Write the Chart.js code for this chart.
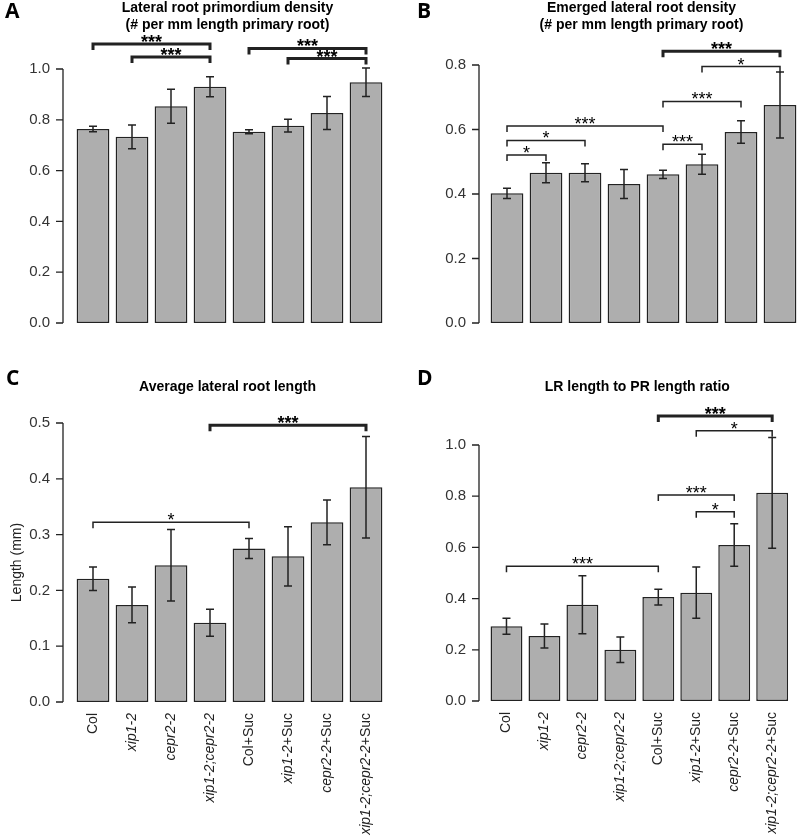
<!DOCTYPE html>
<html>
<head>
<meta charset="utf-8">
<script src="https://cdn.jsdelivr.net/npm/chart.js@4"></script>
<style>
	body { margin: 0; background: #fff; }
	#wrap { position: relative; width: 800px; height: 839px; }
	.panel { position: absolute; }
	canvas { display: block; }
</style>
</head>
<body>
<div id="wrap">
	<div class="panel" style="left:0;top:0"><canvas id="chartA" width="400" height="365"></canvas></div>
	<div class="panel" style="left:400px;top:0"><canvas id="chartB" width="400" height="365"></canvas></div>
	<div class="panel" style="left:0;top:365px"><canvas id="chartC" width="400" height="474"></canvas></div>
	<div class="panel" style="left:400px;top:365px"><canvas id="chartD" width="400" height="474"></canvas></div>
</div>
<script>
const genotypes = ["Col", "xip1-2", "cepr2-2", "xip1-2;cepr2-2", "Col+Suc", "xip1-2+Suc", "cepr2-2+Suc", "xip1-2;cepr2-2+Suc"];
// leading part of each label that is set in italics
const italicPart = ["", "xip1-2", "cepr2-2", "xip1-2;cepr2-2", "", "xip1-2", "cepr2-2", "xip1-2;cepr2-2"];

// A - lateral root primordium density
const primordiumDensity = [0.764, 0.733, 0.853, 0.930, 0.753, 0.777, 0.827, 0.948];
const primordiumErr = [0.011, 0.047, 0.067, 0.039, 0.008, 0.025, 0.065, 0.056];
// B - emerged lateral root density
const emergedDensity = [0.402, 0.466, 0.466, 0.431, 0.461, 0.492, 0.592, 0.676];
const emergedErr = [0.016, 0.031, 0.028, 0.045, 0.013, 0.031, 0.035, 0.102];
// C - average lateral root length (mm)
const lrLength = [0.221, 0.174, 0.245, 0.142, 0.275, 0.261, 0.322, 0.385];
const lrLengthErr = [0.021, 0.032, 0.064, 0.024, 0.018, 0.053, 0.040, 0.091];
// D - LR length to PR length ratio
const lrPrRatio = [0.292, 0.254, 0.376, 0.200, 0.406, 0.423, 0.609, 0.813];
const lrPrRatioErr = [0.031, 0.047, 0.113, 0.050, 0.031, 0.100, 0.083, 0.216];

// significance brackets: [first bar, last bar, height, stars, heavy line]
const sigA = [[0, 3, 1.098, "***", true], [1, 3, 1.047, "***", true], [4, 7, 1.081, "***", true], [5, 7, 1.041, "***", true]];
const sigB = [[0, 1, 0.521, "*", false], [0, 2, 0.566, "*", false], [0, 4, 0.611, "***", false], [4, 5, 0.554, "***", false],
	[4, 6, 0.687, "***", false], [5, 7, 0.795, "*", false], [4, 7, 0.843, "***", true]];
const sigC = [[0, 4, 0.322, "*", false], [3, 7, 0.496, "***", true]];
const sigD = [[0, 4, 0.526, "***", false], [5, 6, 0.739, "*", false], [4, 6, 0.805, "***", false],
	[5, 7, 1.056, "*", false], [4, 7, 1.113, "***", true]];

const FONT = "'Liberation Sans', Arial, sans-serif";

const decor = {
	id: "decor",
	afterDraw(chart, args, o) {
		const ctx = chart.ctx;
		const xs = chart.scales.x;
		const ys = chart.scales.y;
		const area = chart.chartArea;
		const vals = chart.data.datasets[0].data;
		ctx.save();
		ctx.strokeStyle = "#222";
		ctx.fillStyle = "#000";

		// panel letter
		ctx.font = "bold 21px 'Open Sans', sans-serif";
		ctx.textAlign = "left";
		ctx.textBaseline = "alphabetic";
		ctx.fillText(o.letter, o.letterX, o.letterY);

		// title
		ctx.font = "bold 14px " + FONT;
		ctx.textAlign = "center";
		ctx.textBaseline = "middle";
		const cx = (area.left + area.right) / 2 - 2;
		o.title.forEach((line, i) => ctx.fillText(line, cx, o.titleY + i * 17));

		// y axis drawn off the bars, R style
		const ax = area.left - o.axisGap;
		ctx.lineWidth = 1.3;
		ctx.beginPath();
		ctx.moveTo(ax, ys.getPixelForValue(0));
		ctx.lineTo(ax, ys.getPixelForValue(ys.max));
		ys.ticks.forEach(t => {
			const y = ys.getPixelForValue(t.value);
			ctx.moveTo(ax - 7, y);
			ctx.lineTo(ax, y);
		});
		ctx.stroke();

		// error bars
		ctx.lineWidth = 1.5;
		ctx.beginPath();
		vals.forEach((v, i) => {
			const x = xs.getPixelForValue(i);
			const hi = ys.getPixelForValue(v + o.err[i]);
			const lo = ys.getPixelForValue(v - o.err[i]);
			ctx.moveTo(x, hi); ctx.lineTo(x, lo);
			ctx.moveTo(x - 4, hi); ctx.lineTo(x + 4, hi);
			ctx.moveTo(x - 4, lo); ctx.lineTo(x + 4, lo);
		});
		ctx.stroke();

		// significance brackets
		o.sig.forEach(s => {
			const x1 = xs.getPixelForValue(s[0]);
			const x2 = xs.getPixelForValue(s[1]);
			const y = ys.getPixelForValue(s[2]);
			ctx.lineWidth = s[4] ? 3 : 1.5;
			ctx.beginPath();
			ctx.moveTo(x1, y + 6);
			ctx.lineTo(x1, y);
			ctx.lineTo(x2, y);
			ctx.lineTo(x2, y + 6);
			ctx.stroke();
			ctx.font = (s[4] ? "bold " : "") + "18px " + FONT;
			ctx.textAlign = "center";
			ctx.textBaseline = "alphabetic";
			ctx.fillText(s[3], (x1 + x2) / 2, y + 4);
		});

		// y title
		if (o.yTitle) {
			ctx.save();
			ctx.translate(17, (area.top + area.bottom) / 2);
			ctx.rotate(-Math.PI / 2);
			ctx.font = "14px " + FONT;
			ctx.fillStyle = "#222";
			ctx.textAlign = "center";
			ctx.textBaseline = "middle";
			ctx.fillText(o.yTitle, 0, 0);
			ctx.restore();
		}

		// x labels: gene names italic, the rest upright
		if (o.xLabels) {
			const itFont = "italic 14px " + FONT;
			const upFont = "14px " + FONT;
			genotypes.forEach((lab, i) => {
				const it = italicPart[i];
				const rest = lab.slice(it.length);
				ctx.font = itFont;
				const w1 = ctx.measureText(it).width;
				ctx.font = upFont;
				const w2 = ctx.measureText(rest).width;
				ctx.save();
				ctx.translate(xs.getPixelForTick(i), xs.top + 11);
				ctx.rotate(-Math.PI / 2);
				ctx.fillStyle = "#222";
				ctx.textAlign = "left";
				ctx.textBaseline = "middle";
				ctx.font = itFont;
				ctx.fillText(it, -(w1 + w2), 0);
				ctx.font = upFont;
				ctx.fillText(rest, -w2, 0);
				ctx.restore();
			});
		}
		ctx.restore();
	}
};

function makeChart(id, values, p) {
	return new Chart(document.getElementById(id), {
		type: "bar",
		data: {
			labels: genotypes,
			datasets: [
				{
					data: values,
					backgroundColor: "#aeaeae",
					borderColor: "#222",
					borderWidth: 1.5,
					borderSkipped: false,
					barPercentage: 0.84,
					categoryPercentage: 1,
				},
			],
		},
		options: {
			responsive: false,
			animation: false,
			layout: {
				padding: { left: 0, right: p.w - p.right, top: p.top, bottom: p.xLabels ? 0 : p.h - p.bottom },
			},
			plugins: {
				legend: { display: false },
				tooltip: { enabled: false },
				decor: p,
			},
			scales: {
				x: {
					display: p.xLabels,
					grid: { display: false, drawTicks: false },
					border: { display: false },
					ticks: {
						autoSkip: false,
						maxRotation: 90,
						minRotation: 90,
						padding: 11,
						color: "rgba(0,0,0,0)",
						font: { family: FONT, size: 14 },
					},
					afterFit: s => { s.height = p.h - p.bottom; },
				},
				y: {
					min: 0,
					max: p.max,
					grid: { display: false, drawTicks: false },
					border: { display: false },
					ticks: {
						stepSize: p.step,
						padding: p.axisGap + 13,
						color: "#333",
						font: { family: FONT, size: 15 },
						callback: v => v.toFixed(1),
					},
					afterFit: s => { s.width = p.left; },
				},
			},
		},
		plugins: [decor],
	});
}

makeChart("chartA", primordiumDensity, {
	w: 400, h: 365, left: 73.5, right: 385.5, top: 69, bottom: 344, max: 1.0, step: 0.2, axisGap: 10.5,
	letter: "A", letterX: 5, letterY: 18,
	title: ["Lateral root primordium density", "(# per mm length primary root)"], titleY: 8,
	err: primordiumErr, sig: sigA, xLabels: false,
});
makeChart("chartB", emergedDensity, {
	w: 400, h: 365, left: 87.5, right: 399.5, top: 65, bottom: 344, max: 0.8, step: 0.2, axisGap: 8.5,
	letter: "B", letterX: 17, letterY: 18,
	title: ["Emerged lateral root density", "(# per mm length primary root)"], titleY: 8,
	err: emergedErr, sig: sigB, xLabels: false,
});
makeChart("chartC", lrLength, {
	w: 400, h: 474, left: 73.5, right: 385.5, top: 58, bottom: 337, max: 0.5, step: 0.1, axisGap: 10.5,
	letter: "C", letterX: 6, letterY: 20,
	title: ["Average lateral root length"], titleY: 22,
	err: lrLengthErr, sig: sigC, xLabels: true, yTitle: "Length (mm)",
});
makeChart("chartD", lrPrRatio, {
	w: 400, h: 474, left: 87.5, right: 399.5, top: 80, bottom: 336, max: 1.0, step: 0.2, axisGap: 8.5,
	letter: "D", letterX: 17, letterY: 20,
	title: ["LR length to PR length ratio"], titleY: 22,
	err: lrPrRatioErr, sig: sigD, xLabels: true,
});
</script>
</body>
</html>
